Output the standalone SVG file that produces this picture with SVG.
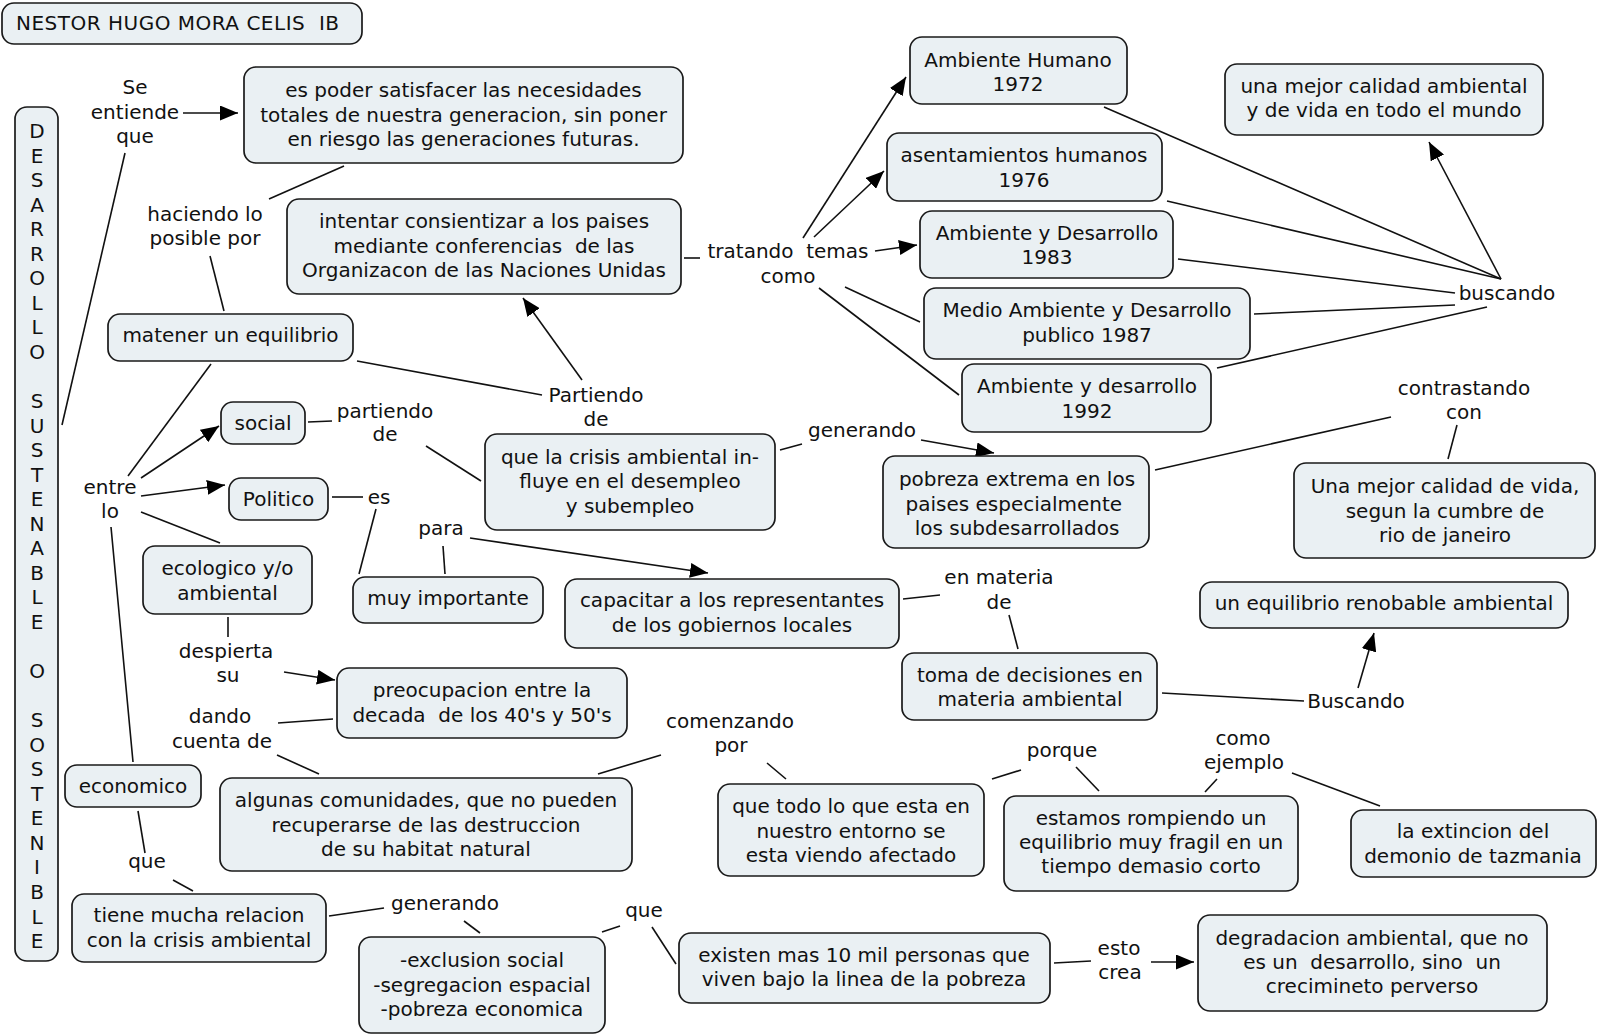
<svg xmlns="http://www.w3.org/2000/svg" width="1600" height="1036" viewBox="0 0 1600 1036">
<style>
  text{font-family:"DejaVu Sans",Verdana,sans-serif;font-size:20px;fill:#111;text-anchor:middle;white-space:pre}
  .n rect{fill:#eaf0f3;stroke:#1a1a1a;stroke-width:1.7}
  .c line{stroke:#111;stroke-width:1.6;fill:none}
  .c .a{marker-end:url(#ah)}
</style>
<defs>
  <marker id="ah" markerUnits="userSpaceOnUse" markerWidth="18" markerHeight="15" refX="18" refY="7.5" orient="auto">
    <path d="M0,0 L18,7.5 L0,15 z" fill="#000"/>
  </marker>
</defs>
<rect width="1600" height="1036" fill="#fff"/>

<g id="connectors" class="c">
  <line x1="125" y1="153" x2="62" y2="425"/>
  <line class="a" x1="183" y1="113" x2="238" y2="113"/>
  <line x1="344" y1="166" x2="269" y2="199"/>
  <line x1="210" y1="256" x2="224" y2="311"/>
  <line x1="357" y1="361" x2="542" y2="395"/>
  <line class="a" x1="582" y1="380" x2="523" y2="298"/>
  <line x1="684" y1="258" x2="700" y2="258"/>
  <line class="a" x1="803" y1="238" x2="906" y2="77"/>
  <line class="a" x1="814" y1="237" x2="884" y2="171"/>
  <line class="a" x1="875" y1="251" x2="917" y2="245"/>
  <line x1="845" y1="287" x2="920" y2="322"/>
  <line x1="819" y1="288" x2="959" y2="395"/>
  <line x1="1104" y1="107" x2="1501" y2="279"/>
  <line x1="1167" y1="201" x2="1501" y2="279"/>
  <line x1="1178" y1="259" x2="1455" y2="293"/>
  <line x1="1254" y1="314" x2="1455" y2="305"/>
  <line x1="1217" y1="368" x2="1487" y2="307"/>
  <line class="a" x1="1501" y1="279" x2="1429" y2="142"/>
  <line x1="128" y1="476" x2="211" y2="364"/>
  <line class="a" x1="141" y1="478" x2="219" y2="426"/>
  <line x1="308" y1="422" x2="332" y2="421"/>
  <line class="a" x1="141" y1="496" x2="225" y2="485"/>
  <line x1="141" y1="512" x2="220" y2="543"/>
  <line x1="332" y1="497" x2="363" y2="497"/>
  <line x1="376" y1="509" x2="359" y2="574"/>
  <line x1="426" y1="446" x2="481" y2="481"/>
  <line x1="780" y1="450" x2="802" y2="444"/>
  <line class="a" x1="921" y1="440" x2="994" y2="453"/>
  <line x1="443" y1="546" x2="445" y2="574"/>
  <line class="a" x1="470" y1="538" x2="708" y2="573"/>
  <line x1="903" y1="599" x2="940" y2="595"/>
  <line x1="1009" y1="615" x2="1018" y2="649"/>
  <line x1="1162" y1="693" x2="1304" y2="701"/>
  <line class="a" x1="1358" y1="688" x2="1374" y2="633"/>
  <line x1="1155" y1="470" x2="1391" y2="417"/>
  <line x1="1457" y1="425" x2="1448" y2="459"/>
  <line x1="228" y1="617" x2="228" y2="637"/>
  <line class="a" x1="284" y1="672" x2="335" y2="680"/>
  <line x1="278" y1="723" x2="333" y2="719"/>
  <line x1="277" y1="755" x2="319" y2="774"/>
  <line x1="111" y1="527" x2="133" y2="762"/>
  <line x1="138" y1="811" x2="145" y2="853"/>
  <line x1="173" y1="880" x2="193" y2="891"/>
  <line x1="329" y1="916" x2="384" y2="908"/>
  <line x1="464" y1="921" x2="480" y2="933"/>
  <line x1="602" y1="932" x2="620" y2="926"/>
  <line x1="652" y1="927" x2="676" y2="964"/>
  <line x1="1054" y1="963" x2="1091" y2="961"/>
  <line class="a" x1="1151" y1="962" x2="1194" y2="962"/>
  <line x1="598" y1="774" x2="661" y2="755"/>
  <line x1="767" y1="763" x2="786" y2="779"/>
  <line x1="992" y1="779" x2="1021" y2="770"/>
  <line x1="1076" y1="767" x2="1099" y2="791"/>
  <line x1="1217" y1="779" x2="1205" y2="792"/>
  <line x1="1292" y1="773" x2="1380" y2="806"/>
</g>

<g id="n_title" class="n"><rect x="2" y="3" width="360" height="41" rx="12"/><text x="16" y="30" style="text-anchor:start;letter-spacing:0.5px">NESTOR HUGO MORA CELIS  IB</text></g>
<g id="n_desarrollo" class="n"><rect x="15" y="107" width="43" height="854" rx="12"/>
  <text x="37" y="138">D<tspan x="37" dy="24.55">E</tspan><tspan x="37" dy="24.55">S</tspan><tspan x="37" dy="24.55">A</tspan><tspan x="37" dy="24.55">R</tspan><tspan x="37" dy="24.55">R</tspan><tspan x="37" dy="24.55">O</tspan><tspan x="37" dy="24.55">L</tspan><tspan x="37" dy="24.55">L</tspan><tspan x="37" dy="24.55">O</tspan><tspan x="37" dy="49.1">S</tspan><tspan x="37" dy="24.55">U</tspan><tspan x="37" dy="24.55">S</tspan><tspan x="37" dy="24.55">T</tspan><tspan x="37" dy="24.55">E</tspan><tspan x="37" dy="24.55">N</tspan><tspan x="37" dy="24.55">A</tspan><tspan x="37" dy="24.55">B</tspan><tspan x="37" dy="24.55">L</tspan><tspan x="37" dy="24.55">E</tspan><tspan x="37" dy="49.1">O</tspan><tspan x="37" dy="49.1">S</tspan><tspan x="37" dy="24.55">O</tspan><tspan x="37" dy="24.55">S</tspan><tspan x="37" dy="24.55">T</tspan><tspan x="37" dy="24.55">E</tspan><tspan x="37" dy="24.55">N</tspan><tspan x="37" dy="24.55">I</tspan><tspan x="37" dy="24.55">B</tspan><tspan x="37" dy="24.55">L</tspan><tspan x="37" dy="24.55">E</tspan></text></g>
<g id="n_espoder" class="n"><rect x="244" y="67" width="439" height="96" rx="12"/><text x="463.5" y="97">es poder satisfacer las necesidades<tspan x="463.5" dy="24.5">totales de nuestra generacion, sin poner</tspan><tspan x="463.5" dy="24.5">en riesgo las generaciones futuras.</tspan></text></g>
<g id="n_intentar" class="n"><rect x="287" y="199" width="394" height="95" rx="12"/><text x="484" y="228">intentar consientizar a los paises<tspan x="484" dy="24.5">mediante conferencias  de las</tspan><tspan x="484" dy="24.5">Organizacon de las Naciones Unidas</tspan></text></g>
<g id="n_matener" class="n"><rect x="108" y="314" width="245" height="47" rx="12"/><text x="230.5" y="342">matener un equilibrio</text></g>
<g id="n_social" class="n"><rect x="221" y="402" width="84" height="42" rx="12"/><text x="263" y="430">social</text></g>
<g id="n_politico" class="n"><rect x="229" y="478" width="99" height="42" rx="12"/><text x="278.5" y="506">Politico</text></g>
<g id="n_ecologico" class="n"><rect x="143" y="546" width="169" height="68" rx="12"/><text x="227.5" y="575">ecologico y/o<tspan x="227.5" dy="25">ambiental</tspan></text></g>
<g id="n_muy" class="n"><rect x="353" y="577" width="190" height="46" rx="12"/><text x="448" y="605">muy importante</text></g>
<g id="n_crisis" class="n"><rect x="485" y="434" width="290" height="96" rx="12"/><text x="630" y="463.5">que la crisis ambiental in-<tspan x="630" dy="24.5">fluye en el desempleo</tspan><tspan x="630" dy="24.5">y subempleo</tspan></text></g>
<g id="n_capacitar" class="n"><rect x="565" y="579" width="334" height="69" rx="12"/><text x="732" y="607">capacitar a los representantes<tspan x="732" dy="24.5">de los gobiernos locales</tspan></text></g>
<g id="n_preocupacion" class="n"><rect x="337" y="668" width="290" height="70" rx="12"/><text x="482" y="697">preocupacion entre la<tspan x="482" dy="24.5">decada  de los 40's y 50's</tspan></text></g>
<g id="n_economico" class="n"><rect x="65" y="765" width="136" height="42" rx="12"/><text x="133" y="793">economico</text></g>
<g id="n_tiene" class="n"><rect x="72" y="894" width="254" height="68" rx="12"/><text x="199" y="922">tiene mucha relacion<tspan x="199" dy="24.5">con la crisis ambiental</tspan></text></g>
<g id="n_algunas" class="n"><rect x="220" y="778" width="412" height="93" rx="12"/><text x="426" y="807">algunas comunidades, que no pueden<tspan x="426" dy="24.5">recuperarse de las destruccion</tspan><tspan x="426" dy="24.5">de su habitat natural</tspan></text></g>
<g id="n_exclusion" class="n"><rect x="359" y="937" width="246" height="96" rx="12"/><text x="482" y="967">-exclusion social<tspan x="482" dy="24.5">-segregacion espacial</tspan><tspan x="482" dy="24.5">-pobreza economica</tspan></text></g>
<g id="n_existen" class="n"><rect x="679" y="933" width="371" height="70" rx="12"/><text x="864" y="962">existen mas 10 mil personas que<tspan x="864" dy="24">viven bajo la linea de la pobreza</tspan></text></g>
<g id="n_quetodo" class="n"><rect x="718" y="784" width="266" height="92" rx="12"/><text x="851" y="813">que todo lo que esta en<tspan x="851" dy="24.5">nuestro entorno se</tspan><tspan x="851" dy="24.5">esta viendo afectado</tspan></text></g>
<g id="n_estamos" class="n"><rect x="1004" y="796" width="294" height="95" rx="12"/><text x="1151" y="825">estamos rompiendo un<tspan x="1151" dy="24">equilibrio muy fragil en un</tspan><tspan x="1151" dy="24">tiempo demasio corto</tspan></text></g>
<g id="n_extincion" class="n"><rect x="1351" y="810" width="245" height="67" rx="12"/><text x="1473" y="838">la extincion del<tspan x="1473" dy="24.5">demonio de tazmania</tspan></text></g>
<g id="n_degradacion" class="n"><rect x="1198" y="915" width="349" height="96" rx="12"/><text x="1372" y="945">degradacion ambiental, que no<tspan x="1372" dy="24">es un  desarrollo, sino  un</tspan><tspan x="1372" dy="24">crecimineto perverso</tspan></text></g>
<g id="n_toma" class="n"><rect x="902" y="653" width="255" height="67" rx="12"/><text x="1030" y="682">toma de decisiones en<tspan x="1030" dy="23.5">materia ambiental</tspan></text></g>
<g id="n_renobable" class="n"><rect x="1200" y="582" width="368" height="46" rx="12"/><text x="1384" y="610">un equilibrio renobable ambiental</text></g>
<g id="n_pobreza" class="n"><rect x="883" y="456" width="266" height="92" rx="12"/><text x="1017" y="486">pobreza extrema en los<tspan x="1017" dy="24.5">paises especialmente </tspan><tspan x="1017" dy="24.5">los subdesarrollados</tspan></text></g>
<g id="n_vida" class="n"><rect x="1294" y="463" width="301" height="95" rx="12"/><text x="1445" y="493">Una mejor calidad de vida,<tspan x="1445" dy="24.5">segun la cumbre de</tspan><tspan x="1445" dy="24.5">rio de janeiro</tspan></text></g>
<g id="n_1972" class="n"><rect x="910" y="37" width="217" height="67" rx="12"/><text x="1018" y="67">Ambiente Humano<tspan x="1018" dy="24">1972</tspan></text></g>
<g id="n_1976" class="n"><rect x="887" y="133" width="275" height="68" rx="12"/><text x="1024" y="162">asentamientos humanos<tspan x="1024" dy="24.5">1976</tspan></text></g>
<g id="n_1983" class="n"><rect x="920" y="211" width="253" height="67" rx="12"/><text x="1047" y="240">Ambiente y Desarrollo<tspan x="1047" dy="24">1983</tspan></text></g>
<g id="n_1987" class="n"><rect x="924" y="288" width="326" height="71" rx="12"/><text x="1087" y="317">Medio Ambiente y Desarrollo<tspan x="1087" dy="25">publico 1987</tspan></text></g>
<g id="n_1992" class="n"><rect x="962" y="364" width="249" height="68" rx="12"/><text x="1087" y="393">Ambiente y desarrollo<tspan x="1087" dy="25">1992</tspan></text></g>
<g id="n_mejor" class="n"><rect x="1225" y="64" width="318" height="71" rx="12"/><text x="1384" y="93">una mejor calidad ambiental<tspan x="1384" dy="24">y de vida en todo el mundo</tspan></text></g>

<g id="l_seentiende"><text x="135" y="94">Se<tspan x="135" dy="24.5">entiende</tspan><tspan x="135" dy="24.5">que</tspan></text></g>
<g id="l_haciendo"><text x="205" y="221">haciendo lo<tspan x="205" dy="24">posible por</tspan></text></g>
<g id="l_tratando"><text x="788" y="258">tratando  temas<tspan x="788" dy="25">como</tspan></text></g>
<g id="l_partiendo1"><text x="596" y="402">Partiendo<tspan x="596" dy="23.5">de</tspan></text></g>
<g id="l_buscando1"><text x="1507" y="300">buscando</text></g>
<g id="l_contrastando"><text x="1464" y="395">contrastando<tspan x="1464" dy="23.5">con</tspan></text></g>
<g id="l_entre"><text x="110" y="494">entre<tspan x="110" dy="24">lo</tspan></text></g>
<g id="l_partiendo2"><text x="385" y="418">partiendo<tspan x="385" dy="23">de</tspan></text></g>
<g id="l_es"><text x="379" y="504">es</text></g>
<g id="l_generando1"><text x="862" y="437">generando</text></g>
<g id="l_para"><text x="441" y="535">para</text></g>
<g id="l_materia"><text x="999" y="584">en materia<tspan x="999" dy="25">de</tspan></text></g>
<g id="l_buscando2"><text x="1356" y="708">Buscando</text></g>
<g id="l_despierta"><text x="226" y="658">despierta<tspan x="228" dy="24">su</tspan></text></g>
<g id="l_dando"><text x="220" y="723">dando<tspan x="222" dy="25">cuenta de</tspan></text></g>
<g id="l_comenzando"><text x="730" y="728">comenzando<tspan x="731" dy="24">por</tspan></text></g>
<g id="l_porque"><text x="1062" y="757">porque</text></g>
<g id="l_ejemplo"><text x="1243" y="745">como<tspan x="1244" dy="24">ejemplo</tspan></text></g>
<g id="l_que1"><text x="147" y="868">que</text></g>
<g id="l_generando2"><text x="445" y="910">generando</text></g>
<g id="l_que2"><text x="644" y="917">que</text></g>
<g id="l_esto"><text x="1119" y="955">esto<tspan x="1120" dy="24">crea</tspan></text></g>
</svg>
